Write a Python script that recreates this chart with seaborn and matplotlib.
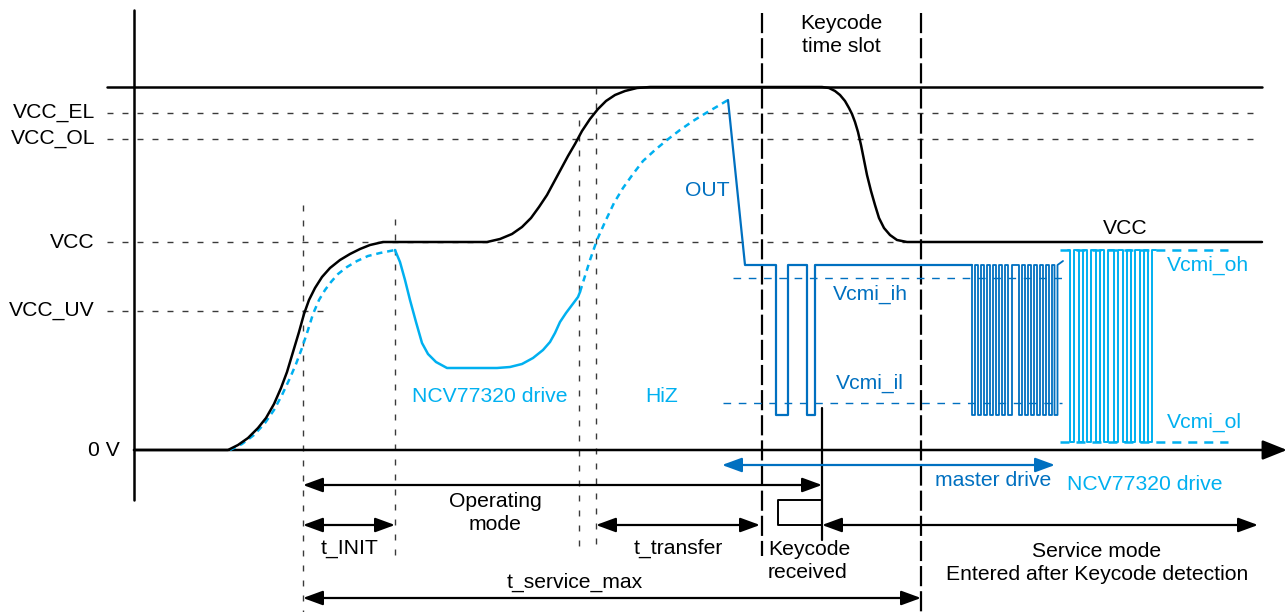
import numpy as np
import pandas as pd
import matplotlib
matplotlib.use("Agg")
import matplotlib.pyplot as plt
import seaborn as sns

# ---------------- data (time axis = horizontal position, level axis = vertical position) -------------
level_names = ["VCC_EL", "VCC_OL", "VCC", "VCC_UV", "0 V"]
level_y = [113, 139, 242, 311, 450]
top_y = 87

# black VCC supply curve
vcc_t = [134, 228, 238, 248, 258, 266, 274, 281, 287, 293, 299, 304, 309, 315, 322, 330, 340, 350, 360, 370, 383,
         487, 500, 512, 522, 531, 539, 547, 554, 561, 568, 575, 582, 590, 598, 606, 615, 625, 637, 650,
         822, 829, 835, 840, 845, 849, 852, 855, 858, 861, 864, 867, 871, 875, 879, 884, 890, 897, 907, 1262]
vcc_v = [450, 450, 445, 438, 428, 418, 404, 388, 372, 352, 332, 314, 300, 288, 277, 268, 260, 254, 249, 245, 242,
         242, 239, 234, 227, 218, 207, 195, 182, 169, 156, 144, 131, 119, 109, 101, 95, 91, 88, 87,
         87, 88, 91, 95, 101, 108, 114, 122, 132, 145, 160, 175, 191, 205, 218, 228, 235, 240, 242, 242]

# NCV77320 output: dashed (HiZ follow) and solid (driven) parts
hiz1_t = [230, 242, 254, 265, 274, 282, 290, 296, 302, 308, 313, 319, 325, 331, 338, 347, 357, 368, 380, 395]
hiz1_v = [450, 444, 435, 423, 410, 395, 378, 364, 348, 330, 314, 300, 290, 282, 274, 267, 261, 256, 253, 250]
drive_t = [395, 400, 405, 410, 416, 422, 428, 436, 447, 497, 510, 522, 533, 543, 550, 555, 560, 566, 572, 578, 580]
drive_v = [250, 262, 280, 300, 322, 343, 354, 362, 368, 368, 367, 364, 358, 350, 342, 333, 322, 313, 305, 297, 292]
hiz2_t = [580, 585, 590, 597, 605, 614, 623, 633, 643, 655, 667, 680, 693, 706, 718, 728]
hiz2_v = [292, 276, 260, 240, 222, 203, 188, 174, 161, 150, 140, 130, 121, 113, 106, 100]

# master (OUT) signal
out_ramp_t = [728, 745]
out_ramp_v = [100, 265]
out_high, out_low = 265, 415
keycode_fall = [776, 807]
keycode_rise = [788, 815]
burst_fall = [972, 978, 984, 990, 996, 1002, 1008, 1019, 1025, 1031, 1037, 1043, 1049, 1054.5]
burst_rise = [975, 981, 987, 993, 999, 1005, 1012, 1022, 1028, 1034, 1040, 1046, 1052, 1057.5]
out_end_t = [1063]
out_end_v = [261]

# NCV77320 service-mode response
ncv_high, ncv_low = 250, 442
ncv_start = 1068
ncv_fall = [1070, 1078.5, 1087, 1095.5, 1104, 1114, 1122.5, 1131, 1139.5, 1148]
ncv_rise = [1074, 1082.5, 1091, 1099.5, 1108, 1118, 1126.5, 1135, 1143.5, 1152]
ncv_end = 1156

# thresholds
vcmi_ih, vcmi_il = 278, 403
vcmi_oh, vcmi_ol = 250, 442

# time markers
t_power, t_init_end, t_drive_end, t_transfer_start = 303, 395, 579, 596
t_slot_start, t_keycode, t_slot_end = 762, 822, 921

# ---------------- styling ----------------
sns.set_theme(style="white")
plt.rcParams["font.family"] = ["Liberation Sans", "DejaVu Sans"]
plt.rcParams["text.color"] = "black"
plt.rcParams["lines.scale_dashes"] = False

BLACK = "#000000"
GRAY = "#3a3a3a"
DARK = "#0070C0"
LIGHT = "#00B0F0"
FS = 15.2

fig = plt.figure(figsize=(12.87, 6.12), dpi=100)
ax = fig.add_axes([0, 0, 1, 1])
ax.set_xlim(0, 1287)
ax.set_ylim(612, 0)
ax.axis("off")

thin_dash = (0, (4.3, 6.5))
long_dash = (0, (14.5, 3.6))


def line(t, v, color, lw, ls="-", z=3):
    df = pd.DataFrame({"t": t, "v": v, "i": range(len(t))})
    sns.lineplot(data=df, x="t", y="v", sort=False, estimator=None, color=color,
                 lw=lw, linestyle=ls, ax=ax, zorder=z, legend=False)


def steps(start_t, hi, lo, falls, rises, end_t):
    t, v = [start_t], [hi]
    for f, r in zip(falls, rises):
        t += [f, f, r, r]
        v += [hi, lo, lo, hi]
    t.append(end_t)
    v.append(hi)
    return t, v


# dashed level guides
guide_ends = {"VCC_EL": 1262, "VCC_OL": 1262, "VCC": 905, "VCC_UV": 330}
for name, y in zip(level_names[:4], level_y[:4]):
    ax.plot([107, guide_ends[name]], [y, y], color=GRAY, lw=1.0, linestyle=thin_dash, zorder=1)

# thin dashed time markers
for x, y0, y1 in [(t_power, 205, 612), (t_init_end, 219, 556), (t_drive_end, 120, 548),
                  (t_transfer_start, 88, 548)]:
    ax.plot([x, x], [y0, y1], color=GRAY, lw=1.0, linestyle=thin_dash, zorder=1)

# keycode time-slot boundaries
ax.plot([t_slot_start, t_slot_start], [13, 556], color=BLACK, lw=1.6, linestyle=long_dash, zorder=2)
ax.plot([t_slot_end, t_slot_end], [13, 612], color=BLACK, lw=1.6, linestyle=long_dash, zorder=2)

# axes
ax.plot([134, 134], [10, 500], color=BLACK, lw=1.8, zorder=4)
ax.annotate("", xy=(1287, level_y[4]), xytext=(134, level_y[4]),
            arrowprops=dict(arrowstyle="-|>,head_length=0.75,head_width=0.3", mutation_scale=20,
                            lw=1.8, color=BLACK, shrinkA=0, shrinkB=0), zorder=4)
ax.plot([107, 1262], [top_y, top_y], color=BLACK, lw=1.8, zorder=4)

# threshold lines
ax.plot([733, 1062], [vcmi_ih, vcmi_ih], color=DARK, lw=1.0, linestyle=(0, (5.5, 5.5)), zorder=2)
ax.plot([723, 1062], [vcmi_il, vcmi_il], color=DARK, lw=1.0, linestyle=(0, (5.5, 5.5)), zorder=2)
ax.plot([1060, 1228], [vcmi_oh, vcmi_oh], color=LIGHT, lw=1.8, linestyle=(0, (6.5, 5)), zorder=2)
ax.plot([1060, 1228], [vcmi_ol, vcmi_ol], color=LIGHT, lw=1.8, linestyle=(0, (6.5, 5)), zorder=2)

# curves
line(vcc_t, vcc_v, BLACK, 1.8, z=5)
line(hiz1_t, hiz1_v, LIGHT, 1.8, ls=(0, (4.5, 3.5)), z=4)
line(drive_t, drive_v, LIGHT, 1.8, z=4)
line(hiz2_t, hiz2_v, LIGHT, 1.8, ls=(0, (4.5, 3.5)), z=4)

# OUT signal
kt, kv = steps(out_ramp_t[1], out_high, out_low, keycode_fall, keycode_rise, burst_fall[0])
line(out_ramp_t + kt[1:], out_ramp_v + kv[1:], DARK, 1.6, z=5)
bt, bv = steps(burst_fall[0], out_high, out_low, burst_fall, burst_rise, burst_rise[-1])
line(bt + out_end_t, bv + out_end_v, DARK, 1.3, z=5)

# NCV response
nt, nv = steps(ncv_start, ncv_high, ncv_low, ncv_fall, ncv_rise, ncv_end)
line(nt, nv, LIGHT, 1.4, z=5)

# keycode-received marker
ax.plot([t_keycode, t_keycode], [408, 540], color=BLACK, lw=1.6, zorder=5)
ax.plot([t_keycode, 778, 778, t_keycode], [500, 500, 525, 525], color=BLACK, lw=1.4, zorder=5)


# arrows
def dbl(x0, x1, y, color=BLACK):
    ax.annotate("", xy=(x1, y), xytext=(x0, y),
                arrowprops=dict(arrowstyle="<|-|>,head_length=0.6,head_width=0.22", mutation_scale=20,
                                lw=1.6, color=color, shrinkA=0, shrinkB=0), zorder=5)


dbl(t_power, t_keycode, 485)
dbl(t_power, t_init_end, 525)
dbl(t_transfer_start, 760, 525)
dbl(t_keycode, 1258, 525)
dbl(t_power, t_slot_end, 598)
dbl(722, 1055, 465, DARK)

# texts
for name, y in zip(level_names[:4], level_y[:4]):
    ax.text(95, y, name, ha="right", va="center", fontsize=FS, color=BLACK)
ax.text(120, level_y[4], level_names[4], ha="right", va="center", fontsize=FS, color=BLACK)

ax.text(841, 35, "Keycode\ntime slot", ha="center", va="center", fontsize=FS, linespacing=1.3)
ax.text(707, 190, "OUT", ha="center", va="center", fontsize=FS, color=DARK)
ax.text(1125, 228, "VCC", ha="center", va="center", fontsize=FS, color=BLACK)
ax.text(1167, 265, "Vcmi_oh", ha="left", va="center", fontsize=FS, color=LIGHT)
ax.text(1167, 422, "Vcmi_ol", ha="left", va="center", fontsize=FS, color=LIGHT)
ax.text(870, 294, "Vcmi_ih", ha="center", va="center", fontsize=FS, color=DARK)
ax.text(870, 383, "Vcmi_il", ha="center", va="center", fontsize=FS, color=DARK)
ax.text(490, 397, "NCV77320 drive", ha="center", va="center", fontsize=FS, color=LIGHT)
ax.text(662, 397, "HiZ", ha="center", va="center", fontsize=FS, color=LIGHT)
ax.text(993, 481, "master drive", ha="center", va="center", fontsize=FS, color=DARK)
ax.text(1145, 484, "NCV77320 drive", ha="center", va="center", fontsize=FS, color=LIGHT)
ax.text(495, 513, "Operating\nmode", ha="center", va="center", fontsize=FS, linespacing=1.3)
ax.text(350, 548, "t_INIT", ha="center", va="center", fontsize=FS)
ax.text(678, 548, "t_transfer", ha="center", va="center", fontsize=FS)
ax.text(768, 561, "Keycode\nreceived", ha="left", va="center", fontsize=FS, linespacing=1.3)
ax.text(1097, 563, "Service mode\nEntered after Keycode detection", ha="center", va="center",
        fontsize=FS, linespacing=1.3)
ax.text(575, 582, "t_service_max", ha="center", va="center", fontsize=FS)

fig.savefig("out.png", dpi=100)
